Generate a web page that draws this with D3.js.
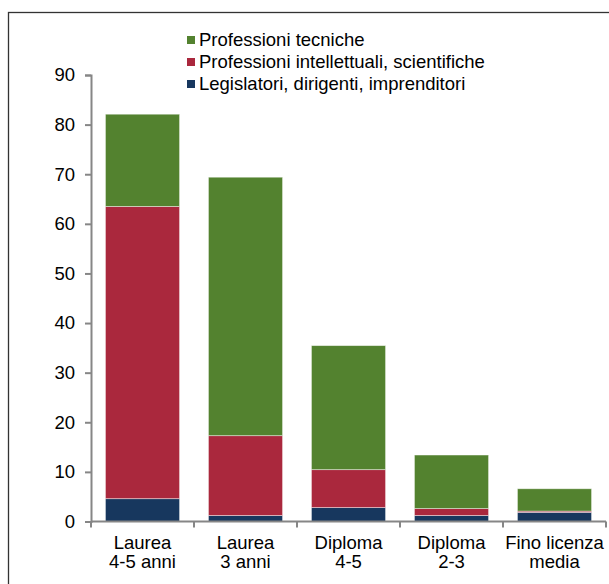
<!DOCTYPE html>
<html>
<head>
<meta charset="utf-8">
<script src="https://cdn.jsdelivr.net/npm/d3@7"></script>
<style>
  html, body { margin: 0; padding: 0; background: #fff; }
  svg { display: block; }
  text { font-family: "Liberation Sans", Arial, sans-serif; fill: #000; }
</style>
</head>
<body>
<svg id="chart" width="609" height="584"></svg>
<script>
// ---- Data ----
const categories = [["Laurea", "4-5 anni"], ["Laurea", "3 anni"], ["Diploma", "4-5"], ["Diploma", "2-3"], ["Fino licenza", "media"]];
const legislatori = [4.6, 1.2, 2.8, 1.2, 1.85];
const intellettuali = [58.9, 16.1, 7.65, 1.4, 0.25];
const tecniche = [18.6, 52.1, 25.0, 10.8, 4.5];
const seriesNames = ["Legislatori, dirigenti, imprenditori", "Professioni intellettuali, scientifiche", "Professioni tecniche"];
const yTicks = [0, 10, 20, 30, 40, 50, 60, 70, 80, 90];

(function () {
// ---- Styling ----
const colors = ["#17375E", "#AA283D", "#53822F"];
const fs = "18.5px";
const svg = d3.select("#chart");

// Frame
svg.append("rect")
  .attr("x", 8.5).attr("y", 12.5)
  .attr("width", 700).attr("height", 700)
  .attr("fill", "none").attr("stroke", "#333").attr("stroke-width", 1.3);

const mLeft = 91, mRight = 606, mTop = 75, mBottom = 521.5;
const keys = categories.map((c, i) => i);
const x = d3.scaleBand().domain(keys).range([mLeft, mRight]).paddingInner(0.28).paddingOuter(0.14);
const y = d3.scaleLinear().domain([0, 90]).range([mBottom, mTop]);

const table = keys.map(i => ({ i, a: legislatori[i], b: intellettuali[i], c: tecniche[i] }));
const stack = d3.stack().keys(["a", "b", "c"])(table);

// Bars
svg.append("g").selectAll("g").data(stack).join("g")
  .attr("fill", (d, k) => colors[k])
  .selectAll("rect").data(d => d).join("rect")
  .attr("x", d => x(d.data.i))
  .attr("width", x.bandwidth())
  .attr("y", d => y(d[1]))
  .attr("height", d => y(d[0]) - y(d[1]))
  .attr("stroke", "rgba(255,255,255,0.55)")
  .attr("stroke-width", 0.8);

// Y axis
const yAxis = svg.append("g").attr("transform", `translate(${mLeft},0)`)
  .call(d3.axisLeft(y).tickValues(yTicks).tickSize(6).tickPadding(10).tickFormat(d3.format("d")));
yAxis.select(".domain").attr("stroke", "#868686").attr("stroke-width", 2);
yAxis.selectAll(".tick line").attr("stroke", "#868686").attr("stroke-width", 2);
yAxis.selectAll("text").style("font-size", fs).attr("fill", "#000")
  .style("font-family", '"Liberation Sans", Arial, sans-serif');

// X axis (domain + boundary ticks)
const step = x.step();
const boundaries = d3.range(categories.length + 1).map(k => mLeft + k * step);
const xg = svg.append("g");
xg.append("line").attr("x1", mLeft).attr("x2", mRight).attr("y1", mBottom).attr("y2", mBottom)
  .attr("stroke", "#868686").attr("stroke-width", 2);
xg.selectAll("line.tk").data(boundaries).join("line").attr("class", "tk")
  .attr("x1", d => d).attr("x2", d => d).attr("y1", mBottom).attr("y2", mBottom + 6)
  .attr("stroke", "#868686").attr("stroke-width", 2);

// X labels
const lbl = svg.append("g").selectAll("text").data(table).join("text")
  .attr("text-anchor", "middle")
  .style("font-size", fs);
lbl.each(function(d) {
  const cx = x(d.i) + x.bandwidth() / 2;
  const t = d3.select(this);
  categories[d.i].forEach((line, j) => {
    t.append("tspan").attr("x", cx).attr("y", 549 + j * 19).text(line);
  });
});

// Legend
const legendOrder = [2, 1, 0];
const lg = svg.append("g").selectAll("g").data(legendOrder).join("g")
  .attr("transform", (d, j) => `translate(187, ${46 + j * 22})`);
lg.append("rect").attr("x", 0).attr("y", -10).attr("width", 8).attr("height", 8)
  .attr("fill", d => colors[d]);
lg.append("text").attr("x", 12).attr("y", 0).style("font-size", fs)
  .text(d => seriesNames[d]);
})();
</script>
</body>
</html>
